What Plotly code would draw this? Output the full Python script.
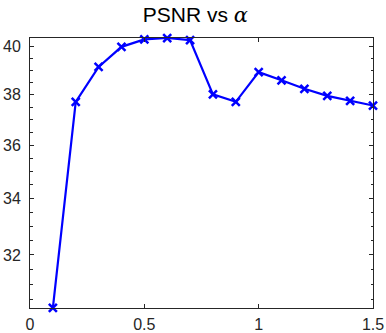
import numpy as np
import plotly.graph_objects as go

alpha = [0.1, 0.2, 0.3, 0.4, 0.5, 0.6, 0.7, 0.8, 0.9, 1.0, 1.1, 1.2, 1.3, 1.4, 1.5]
psnr = [30.23, 37.71, 39.15, 40.0, 40.32, 40.38, 40.29, 38.01, 37.71, 38.93, 38.59, 38.24, 37.95, 37.75, 37.56]
x_ticks = [0, 0.5, 1, 1.5]
x_ticklabels = ["0", "0.5", "1", "1.5"]
y_ticks = [32, 34, 36, 38, 40]
y_minor = [30.5, 31, 31.5, 32.5, 33, 33.5, 34.5, 35, 35.5, 36.5, 37, 37.5, 38.5, 39, 39.5]

AX = "#262626"
FONT = "Liberation Sans, Arial, Helvetica, sans-serif"

fig = go.Figure()
fig.add_trace(go.Scatter(
    x=alpha, y=psnr, mode="lines+markers",
    line=dict(color="#0000FF", width=2.2),
    marker=dict(symbol="x-thin", size=8, line=dict(color="#0000FF", width=2.5), color="#0000FF"),
    cliponaxis=False,
))

ymin, ymax = min(psnr), max(psnr)
fig.update_layout(
    width=386, height=333,
    margin=dict(l=30, r=13, t=38, b=25, autoexpand=False),
    paper_bgcolor="white", plot_bgcolor="white",
    showlegend=False,
    font=dict(family=FONT, color=AX, size=16),
    title=dict(
        text="PSNR vs <span style=\"font-family:'DejaVu Serif'\"><i>α</i></span>",
        x=0.506, xref="container", xanchor="center",
        y=0.955, yref="container", yanchor="middle",
        font=dict(family=FONT, size=21, color="black"),
    ),
    xaxis=dict(
        range=[0, 1.5], tickvals=x_ticks, ticktext=x_ticklabels,
        ticks="inside", ticklen=4, tickwidth=1, tickcolor=AX,
        showline=True, linecolor=AX, linewidth=1, mirror="ticks",
        showgrid=False, zeroline=False, automargin=False,
        ticklabelstandoff=2,
        tickfont=dict(family=FONT, size=16, color=AX),
    ),
    yaxis=dict(
        type="log",
        range=[np.log10(ymin) - 1e-5, np.log10(ymax) + 1e-5],
        tickvals=y_ticks, ticktext=[str(v) for v in y_ticks],
        ticks="inside", ticklen=4, tickwidth=1, tickcolor=AX,
        showline=True, linecolor=AX, linewidth=1, mirror="ticks",
        showgrid=False, zeroline=False, automargin=False,
        ticklabelstandoff=5,
        minor=dict(tickvals=y_minor, ticks="inside", ticklen=2.5, tickcolor=AX, showgrid=False),
        tickfont=dict(family=FONT, size=16, color=AX),
    ),
)

fig.write_html("out.html", config={"displayModeBar": False},
               post_script="document.body.style.margin='0';")
